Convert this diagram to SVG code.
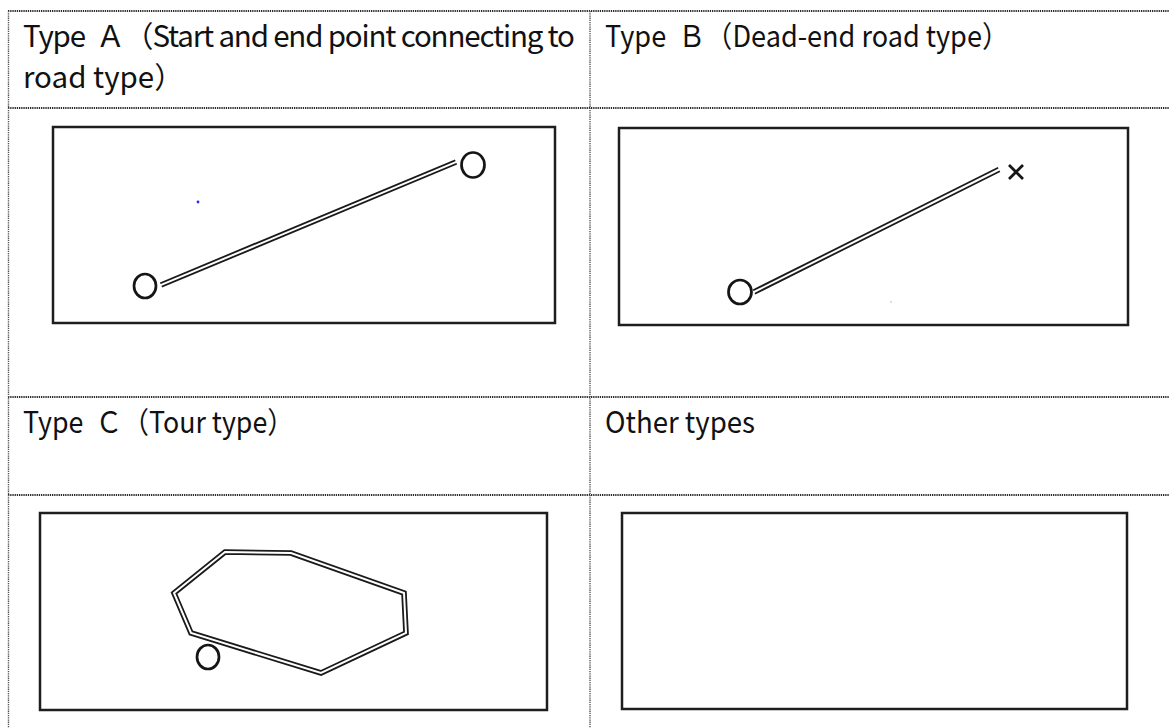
<svg xmlns="http://www.w3.org/2000/svg" width="1169" height="728" viewBox="0 0 1169 728">
<style>
.grid-h{stroke:#2a2a2a;stroke-width:1.9;stroke-dasharray:1.3 0.9;fill:none}
.grid-v{stroke:#555555;stroke-width:1.4;stroke-dasharray:1.3 0.9;fill:none}
.frame{fill:none;stroke:#1e1e1e;stroke-width:2.5}
.road-out{fill:none;stroke:#1a1a1a;stroke-width:5.6;stroke-linejoin:miter}
.road-in{fill:none;stroke:#ffffff;stroke-width:2;stroke-linejoin:miter}
.node{fill:none;stroke:#151515;stroke-width:2.7}
.lbl{font-family:'Noto Sans CJK JP','Noto Sans',sans-serif;font-size:29.5px;fill:#111}
</style>
<rect width="1169" height="728" fill="#ffffff"/>
<g id="table">
<line class="grid-h" x1="8" y1="11" x2="1169" y2="11"/>
<line class="grid-h" x1="8" y1="108" x2="1169" y2="108"/>
<line class="grid-h" x1="8" y1="397" x2="1169" y2="397"/>
<line class="grid-h" x1="8" y1="495" x2="1169" y2="495"/>
<line class="grid-v" x1="8.5" y1="11" x2="8.5" y2="728"/>
<line class="grid-v" x1="590" y1="11" x2="590" y2="728"/>
</g>
<g id="header-a">
<text class="lbl" x="23" y="47" textLength="552" lengthAdjust="spacing" xml:space="preserve">Type  Ａ（Start and end point connecting to</text>
<text class="lbl" x="23" y="88">road type）</text>
</g>
<g id="header-b">
<text class="lbl" x="605" y="47" textLength="404" lengthAdjust="spacingAndGlyphs" xml:space="preserve">Type  Ｂ（Dead-end road type）</text>
</g>
<g id="header-c">
<text class="lbl" x="23" y="433" textLength="271" lengthAdjust="spacingAndGlyphs" xml:space="preserve">Type  Ｃ（Tour type）</text>
</g>
<g id="header-other">
<text class="lbl" x="605" y="433" textLength="150" lengthAdjust="spacingAndGlyphs">Other types</text>
</g>
<g id="diagram-a">
<rect class="frame" x="53" y="127" width="502" height="196"/>
<circle cx="198" cy="202" r="1.4" fill="#2a2aff"/>
</g>
<g id="diagram-b">
<rect class="frame" x="619" y="128" width="509" height="197"/>
<circle cx="891" cy="302" r="0.9" fill="#cccccc"/>
</g>
<g id="diagram-c">
<rect class="frame" x="40" y="513" width="507" height="197"/>
</g>
<g id="diagram-other">
<rect class="frame" x="622" y="513" width="505" height="196"/>
</g>
<g id="connectors">
<line class="road-out" x1="161" y1="285" x2="456" y2="162"/>
<line class="road-in" x1="160" y1="285.4" x2="457" y2="161.6"/>
<line class="road-out" x1="754" y1="292" x2="999" y2="169.5"/>
<line class="road-in" x1="753" y1="292.5" x2="1000" y2="169"/>
<polygon class="road-out" points="225,552 291,553 404,593 406,633 321,673 191,633 174,593"/>
<polygon class="road-in" points="225,552 291,553 404,593 406,633 321,673 191,633 174,593"/>
</g>
<g id="node-a-start"><ellipse class="node" cx="145" cy="286" rx="11" ry="12"/></g>
<g id="node-a-end"><ellipse class="node" cx="473" cy="165" rx="11.5" ry="12.5"/></g>
<g id="node-b-start"><ellipse class="node" cx="740" cy="292" rx="11.5" ry="12"/></g>
<g id="node-b-end"><path class="node" stroke-width="2.4" d="M1009,165 L1023,179 M1023,165 L1009,179"/></g>
<g id="node-c-start"><ellipse class="node" cx="208" cy="657" rx="11" ry="12"/></g>
</svg>
